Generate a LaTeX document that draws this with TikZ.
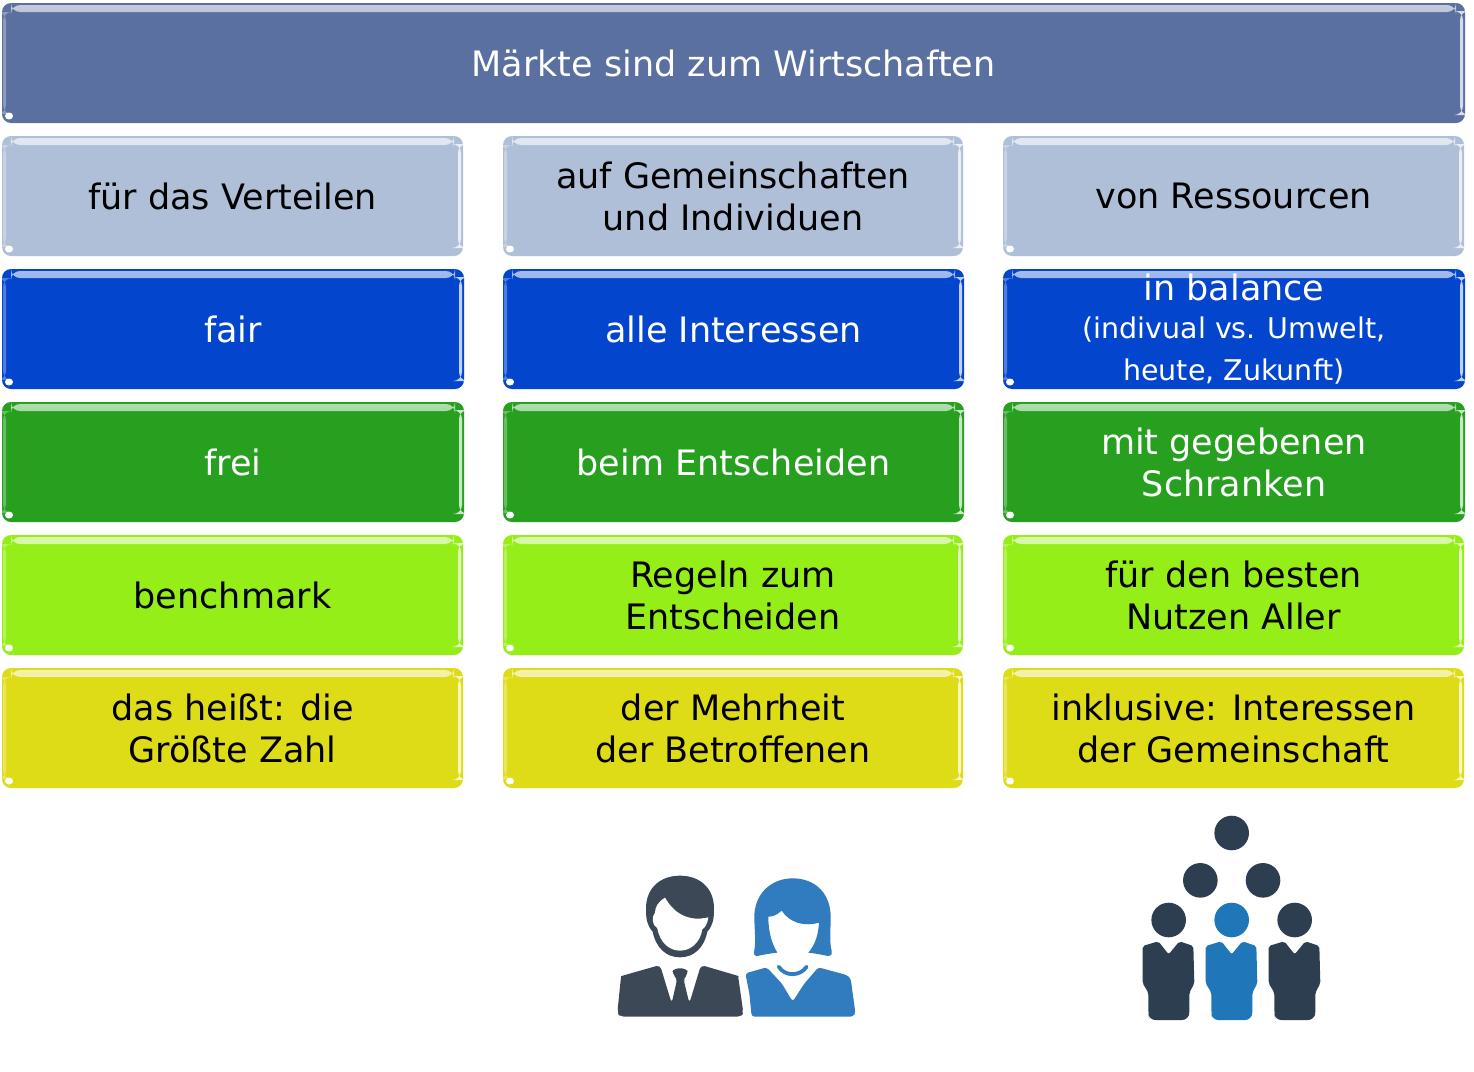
\documentclass[tikz,border=0pt]{standalone}
\usepackage{fontspec}
\setmainfont{DejaVu Sans}
\usetikzlibrary{calc}
\definecolor{hdr}{HTML}{5A70A0}
\definecolor{lgt}{HTML}{B0BFD8}
\definecolor{blu}{HTML}{0445CE}
\definecolor{grn}{HTML}{27A020}
\definecolor{lim}{HTML}{95EE18}
\definecolor{yel}{HTML}{DEDB17}
\definecolor{mandk}{HTML}{3D4856}
\definecolor{womblue}{HTML}{317BBF}
\definecolor{ppldk}{HTML}{2C3E50}
\definecolor{pplblue}{HTML}{1F77B9}
\newcommand{\mainsize}{\fontsize{35}{42}\selectfont}
\newcommand{\subsize}{\fontsize{28.5}{39}\selectfont}
\tikzset{
  x=1pt,y=-1pt,
  gbox/.style n args={3}{
    anchor=north west,inner sep=0pt,outer sep=0pt,rounded corners=9pt,
    align=center,font=\mainsize,text=#2,fill=#1,
    minimum height=120pt,minimum width=#3,
    path picture={
      \shade[top color=#1!35!white,bottom color=#1]
        ($(path picture bounding box.north west)+(9,2)$) rectangle ($(path picture bounding box.north east)+(-9,9)$);
      \fill[#1!70!white]
        ($(path picture bounding box.north west)+(1,9)$) rectangle ($(path picture bounding box.south west)+(4,-9)$);
      \fill[#1!25!white]
        ($(path picture bounding box.north east)+(-5,8)$) rectangle ($(path picture bounding box.south east)+(-2,-8)$);
      \fill[white]
        ($(path picture bounding box.south west)+(7,-7)$) ellipse [x radius=4pt,y radius=3.5pt];
    }
  },
  iconman/.style={fill=mandk},
  iconwoman/.style={fill=womblue},
  icondk/.style={fill=ppldk},
  iconbl/.style={fill=pplblue}
}
\newcommand{\personbody}[2]{%
  \fill[#2,shift={(#1,0)},rounded corners=2pt]
    (-31,394) -- (0,433) -- (32,394) -- (74,408) -- (77,520) -- (62,548)
    -- (62,610) [rounded corners=6pt] -- (58,630) -- (-58,630) -- (-61,610) [rounded corners=2pt] -- (-61,548)
    -- (-78,520) -- (-78,408) -- cycle;
}
\begin{document}
\begin{tikzpicture}
\useasboundingbox[fill=white] (0,0) rectangle (1474,1071);
% header
\node[gbox={hdr}{white}{1463pt}] (head) at (2,3) {Märkte sind zum Wirtschaften};
% row 1
\node[gbox={lgt}{black}{461pt}] (a1) at (2,136) {für das Verteilen};
\node[gbox={lgt}{black}{460pt}] (b1) at (503,136) {auf Gemeinschaften\\und Individuen};
\node[gbox={lgt}{black}{461pt}] (c1) at (1003,136) {von Ressourcen};
% row 2
\node[gbox={blu}{white}{462pt}] (a2) at (2,269) {fair};
\node[gbox={blu}{white}{461pt}] (b2) at (503,269) {alle Interessen};
\node[gbox={blu}{white}{462pt}] (c2) at (1003,269) {in balance\\[-4pt]\subsize (indivual vs. Umwelt,\\\subsize heute, Zukunft)};
% row 3
\node[gbox={grn}{white}{462pt}] (a3) at (2,402) {frei};
\node[gbox={grn}{white}{461pt}] (b3) at (503,402) {beim Entscheiden};
\node[gbox={grn}{white}{462pt}] (c3) at (1003,402) {mit gegebenen\\Schranken};
% row 4
\node[gbox={lim}{black}{461pt}] (a4) at (2,535) {benchmark};
\node[gbox={lim}{black}{460pt}] (b4) at (503,535) {Regeln zum\\Entscheiden};
\node[gbox={lim}{black}{461pt}] (c4) at (1003,535) {für den besten\\Nutzen Aller};
% row 5
\node[gbox={yel}{black}{461pt}] (a5) at (2,668) {das heißt: die\\Größte Zahl};
\node[gbox={yel}{black}{460pt}] (b5) at (503,668) {der Mehrheit\\der Betroffenen};
\node[gbox={yel}{black}{461pt}] (c5) at (1003,668) {inklusive: Interessen\\der Gemeinschaft};
% man and woman icon
\begin{scope}[shift={(600,860)},x=0.33333pt,y=-0.33333pt]
  \fill[iconman] (240,47) .. controls (300,47) and (342,85) .. (342,145)
    .. controls (342,175) and (340,195) .. (322,215)
    .. controls (312,265) and (280,292) .. (240,292)
    .. controls (200,292) and (168,265) .. (158,215)
    .. controls (140,195) and (138,175) .. (138,145)
    .. controls (138,85) and (180,47) .. (240,47) -- cycle;
  \fill[white] (195,113) .. controls (175,125) and (165,140) .. (165,158)
    .. controls (155,170) and (155,195) .. (172,205)
    .. controls (180,250) and (210,272) .. (240,272)
    .. controls (270,272) and (300,250) .. (307,208)
    .. controls (318,200) and (322,190) .. (325,172)
    .. controls (270,185) and (225,165) .. (195,113) -- cycle;
  \fill[iconman,rounded corners=4pt] (180,315) -- (215,430) -- (232,355) -- (215,340) -- (222,325) -- (258,325) -- (266,340) -- (250,355) -- (268,430) -- (303,315)
    -- (405,345) .. controls (412,347) and (415,352) .. (416,360) -- (430,458) -- (424,470) -- (60,470) -- (52,458) -- (62,360)
    .. controls (63,352) and (68,347) .. (75,345) -- cycle;
  \fill[iconwoman] (578,55) .. controls (650,55) and (692,105) .. (692,170)
    .. controls (692,210) and (688,250) .. (695,272)
    .. controls (697,285) and (692,288) .. (684,288)
    .. controls (665,284) and (645,280) .. (625,278)
    .. controls (645,255) and (655,225) .. (657,188)
    .. controls (615,200) and (570,190) .. (545,152)
    .. controls (530,165) and (520,170) .. (505,170)
    .. controls (505,215) and (515,250) .. (532,278)
    .. controls (510,280) and (490,284) .. (472,288)
    .. controls (462,288) and (460,280) .. (463,270)
    .. controls (468,240) and (463,205) .. (463,170)
    .. controls (463,105) and (510,55) .. (578,55) -- cycle;
  \fill[iconwoman,rounded corners=3pt] (500,322) -- (545,370) -- (578,425) -- (612,372) -- (655,322)
    -- (740,345) -- (752,355) -- (766,458) -- (760,470) -- (455,470) -- (448,400) -- (436,340) -- cycle;
  \draw[womblue,line width=3.8pt,line cap=round] (536,320) .. controls (555,350) and (600,350) .. (620,320);
\end{scope}
% group icon
\begin{scope}[shift={(1130,810)},x=0.33333pt,y=-0.33333pt]
  \fill[icondk] (305,69) circle [radius=17.3pt];
  \fill[icondk] (211,211) circle [radius=17.3pt];
  \fill[icondk] (399,211) circle [radius=17.3pt];
  \fill[icondk] (116,330) circle [radius=17.3pt];
  \fill[iconbl] (305,330) circle [radius=17.3pt];
  \fill[icondk] (494,330) circle [radius=17.3pt];
  \personbody{116}{icondk}
  \personbody{305}{iconbl}
  \personbody{494}{icondk}
\end{scope}
\end{tikzpicture}
\end{document}
